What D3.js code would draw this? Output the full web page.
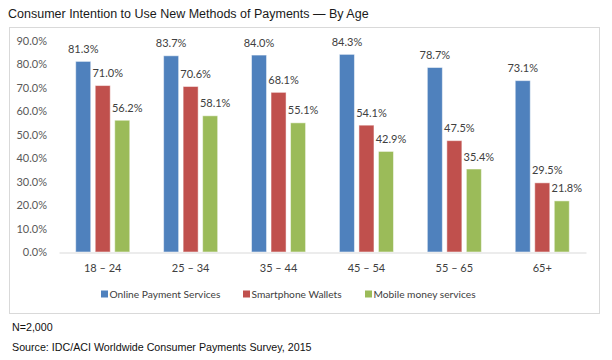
<!DOCTYPE html>
<html><head><meta charset="utf-8">
<script src="https://cdn.jsdelivr.net/npm/d3@7"></script>
<style>body{margin:0;background:#fff}svg{display:block}</style>
</head><body>
<svg id="c" width="612" height="360"></svg>
<script>
const categories = ["18 – 24","25 – 34","35 – 44","45 – 54","55 – 65","65+"];
const seriesNames = ["Online Payment Services","Smartphone Wallets","Mobile money services"];
const online = [81.3,83.7,84.0,84.3,78.7,73.1];
const wallets = [71.0,70.6,68.1,54.1,47.5,29.5];
const mobile = [56.2,58.1,55.1,42.9,35.4,21.8];
const yTicks = [0,10,20,30,40,50,60,70,80,90];
const colors = ["#4F81BD","#C0504D","#9BBB59"];
const title = "Consumer Intention to Use New Methods of Payments — By Age";
const notes = ["N=2,000","Source: IDC/ACI Worldwide Consumer Payments Survey, 2015"];

const series = [online, wallets, mobile];
const svg = d3.select("#c");
const font = "Lato, 'Open Sans', sans-serif";

svg.append("text").attr("x",8).attr("y",18).attr("font-family","Liberation Sans, Arial, sans-serif")
  .attr("font-size",12.5).attr("fill","#1a1a1a").text(title);

svg.append("rect").attr("x",9.5).attr("y",27.5).attr("width",590).attr("height",286)
  .attr("fill","#fff").attr("stroke","#d9d9d9");

const x0 = d3.scaleBand().domain(categories).range([59,586]).paddingInner(0.385).paddingOuter(0.19);
const x1 = d3.scaleBand().domain(d3.range(3)).range([0,x0.bandwidth()]).paddingInner(0.23).paddingOuter(0);
const y = d3.scaleLinear().domain([0,90]).range([252,41]);

const yAxis = d3.axisLeft(y).tickValues(yTicks).tickFormat(d=>d.toFixed(1)+"%").tickSize(0).tickPadding(0);
const ya = svg.append("g").attr("transform","translate(47,0)").call(yAxis);
ya.select(".domain").remove();
ya.selectAll("text").attr("font-family",font).attr("font-size",11).attr("fill","#595959");

const g = svg.append("g");
categories.forEach((c,i)=>{
  series.forEach((s,k)=>{
    const bx = x0(c)+x1(k);
    g.append("rect").attr("x",bx).attr("y",y(s[i])).attr("width",x1.bandwidth())
      .attr("height",y(0)-y(s[i])).attr("fill",colors[k])
      .attr("stroke","#ffffff").attr("stroke-opacity",0.5).attr("stroke-width",1);
    const shift = k===0?0:5;
    g.append("text").attr("x",bx+x1.bandwidth()/2+shift).attr("y",y(s[i])-8.5)
      .attr("text-anchor","middle").attr("font-family",font).attr("font-size",11)
      .attr("fill","#404040").text(s[i].toFixed(1)+"%");
  });
});

const xAxis = d3.axisBottom(x0).tickSize(0).tickPadding(12);
const xa = svg.append("g").attr("transform","translate(0,252.5)").call(xAxis);
xa.select(".domain").attr("stroke","#d9d9d9").attr("stroke-width",1.2);
xa.selectAll("text").attr("font-family",font).attr("font-size",11).attr("fill","#404040");

const legX = [101,243,365];
seriesNames.forEach((n,k)=>{
  svg.append("rect").attr("x",legX[k]).attr("y",290.5).attr("width",7).attr("height",7).attr("fill",colors[k]);
  svg.append("text").attr("x",legX[k]+8.5).attr("y",298).attr("font-family",font).attr("font-size",10.2)
    .attr("fill","#404040").text(n);
});

svg.append("text").attr("x",12).attr("y",331).attr("font-family","Liberation Sans, Arial, sans-serif")
  .attr("font-size",10.7).attr("fill","#111").text(notes[0]);
svg.append("text").attr("x",12).attr("y",351).attr("font-family","Liberation Sans, Arial, sans-serif")
  .attr("font-size",10.7).attr("fill","#111").text(notes[1]);
</script>
</body></html>
